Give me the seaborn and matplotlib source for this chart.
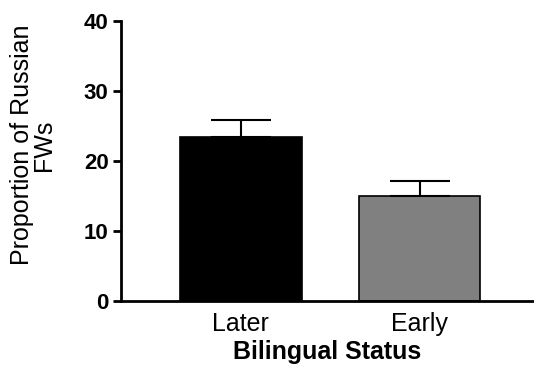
import matplotlib
matplotlib.use("Agg")
import matplotlib.pyplot as plt
import seaborn as sns
import pandas as pd

# values
groups = ["Later", "Early"]
means = [23.4, 15.0]
sems = [2.5, 2.15]
bar_colors = ["#000000", "#808080"]

sns.set_style("ticks")
plt.rcParams["font.family"] = ["Liberation Sans", "DejaVu Sans"]
plt.rcParams["text.color"] = "black"
plt.rcParams["axes.labelcolor"] = "black"

df = pd.DataFrame({"status": groups, "prop": means})

fig = plt.figure(figsize=(5.34, 3.71), dpi=100)
ax = fig.add_axes([0.2266, 0.1887, 0.7734, 0.7547])

sns.barplot(data=df, x="status", y="prop", hue="status", palette=bar_colors,
            order=groups, hue_order=groups, legend=False, errorbar=None,
            width=0.68, edgecolor="black", linewidth=1.2, ax=ax)

# Prism-style: only the upper half of the error bar
ax.errorbar(x=range(len(groups)), y=means, yerr=[[0] * len(sems), sems],
            fmt="none", ecolor="black", elinewidth=1.5, capsize=21.6,
            capthick=1.5, zorder=1)

ax.set_ylim(0, 40)
ax.set_xlim(-0.67, 1.64)
ax.set_yticks([0, 10, 20, 30, 40])

for side in ["top", "right"]:
    ax.spines[side].set_visible(False)
for side in ["left", "bottom"]:
    ax.spines[side].set_linewidth(2.0)
    ax.spines[side].set_color("black")

ax.tick_params(axis="y", length=6, width=2.0, pad=3, labelsize=16, colors="black")
ax.tick_params(axis="x", length=0, pad=8, labelsize=18, colors="black")
for lbl in ax.get_yticklabels():
    lbl.set_fontweight("bold")

ax.set_xlabel("Bilingual Status", fontsize=18, fontweight="bold", labelpad=3,
              color="black")
ax.set_ylabel("Proportion of Russian\nFWs", fontsize=18, linespacing=0.88,
              color="black")
ax.yaxis.set_label_coords(-0.158, 0.557)

fig.savefig("out.png", dpi=100)
